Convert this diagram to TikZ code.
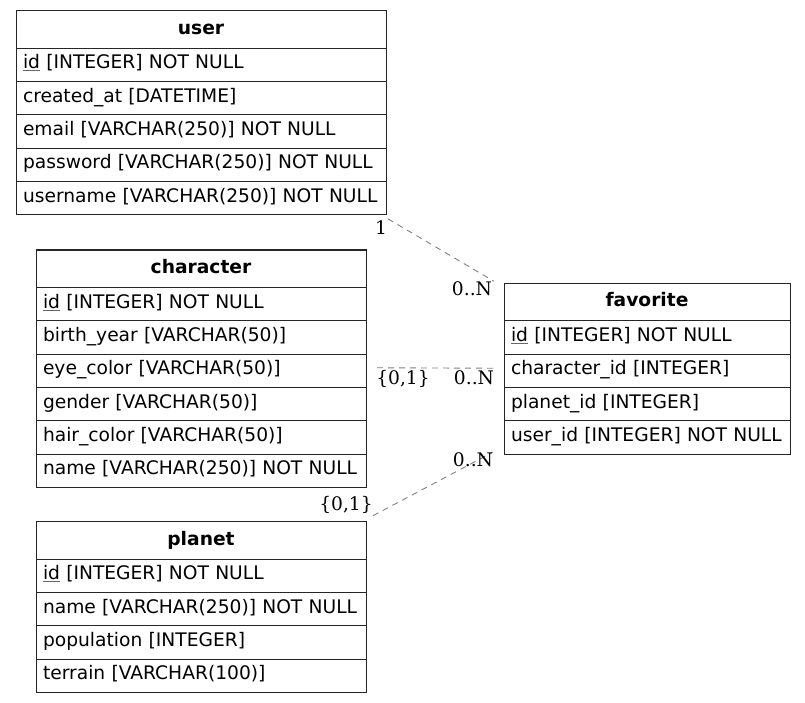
\documentclass[tikz,border=0pt]{standalone}
\usepackage{fontspec}
\usepackage{calc}
\setmainfont{DejaVu Sans}
\newfontfamily\lblfont{DejaVu Serif}
% primary key: thin grey underline just below the baseline
\newcommand\pkey[1]{\leavevmode\rlap{\textcolor{black!60}{\rule[-2.2pt]{\widthof{#1}}{0.8pt}}}#1}
\begin{document}
\begin{tikzpicture}[x=1pt,y=-1pt,
  every node/.style={font=\fontsize{18.67}{22}\selectfont},
  cellbase/.style={draw=black!85,line width=1pt,anchor=north west,inner ysep=0pt,inner xsep=7pt,outer sep=0pt},
  hdr/.style={cellbase,minimum height=37.4pt,text height=23.4pt,text depth=14pt,align=center,font=\fontsize{18.67}{22}\selectfont\bfseries},
  fld/.style={cellbase,minimum height=33.35pt,text height=20.7pt,text depth=12.65pt,align=left},
  rel/.style={draw=black!50,line width=0.9pt,dash pattern=on 6pt off 5pt},
  card/.style={anchor=base,inner sep=0pt,font=\fontsize{18.67}{22}\selectfont\lblfont}]
\useasboundingbox (0,0) rectangle (805,703);

% user
\node[hdr,text width=356pt] (u0) at (16,10.7) {user};
\node[fld,text width=356pt] (u1) at (u0.south west) {\mbox{\pkey{id} [INTEGER] NOT NULL}};
\node[fld,text width=356pt] (u2) at (u1.south west) {\mbox{created\_at [DATETIME]}};
\node[fld,text width=356pt] (u3) at (u2.south west) {\mbox{email [VARCHAR(250)] NOT NULL}};
\node[fld,text width=356pt] (u4) at (u3.south west) {\mbox{password [VARCHAR(250)] NOT NULL}};
\node[fld,text width=356pt] (u5) at (u4.south west) {\mbox{username [VARCHAR(250)] NOT NULL}};

% character
\node[hdr,text width=316pt] (c0) at (36,250) {character};
\node[fld,text width=316pt] (c1) at (c0.south west) {\mbox{\pkey{id} [INTEGER] NOT NULL}};
\node[fld,text width=316pt] (c2) at (c1.south west) {\mbox{birth\_year [VARCHAR(50)]}};
\node[fld,text width=316pt] (c3) at (c2.south west) {\mbox{eye\_color [VARCHAR(50)]}};
\node[fld,text width=316pt] (c4) at (c3.south west) {\mbox{gender [VARCHAR(50)]}};
\node[fld,text width=316pt] (c5) at (c4.south west) {\mbox{hair\_color [VARCHAR(50)]}};
\node[fld,text width=316pt] (c6) at (c5.south west) {\mbox{name [VARCHAR(250)] NOT NULL}};

% planet
\node[hdr,text width=316pt] (p0) at (36,521.7) {planet};
\node[fld,text width=316pt] (p1) at (p0.south west) {\mbox{\pkey{id} [INTEGER] NOT NULL}};
\node[fld,text width=316pt] (p2) at (p1.south west) {\mbox{name [VARCHAR(250)] NOT NULL}};
\node[fld,text width=316pt] (p3) at (p2.south west) {\mbox{population [INTEGER]}};
\node[fld,text width=316pt] (p4) at (p3.south west) {\mbox{terrain [VARCHAR(100)]}};

% favorite
\node[hdr,text width=272pt] (f0) at (504,283.3) {favorite};
\node[fld,text width=272pt] (f1) at (f0.south west) {\mbox{\pkey{id} [INTEGER] NOT NULL}};
\node[fld,text width=272pt] (f2) at (f1.south west) {\mbox{character\_id [INTEGER]}};
\node[fld,text width=272pt] (f3) at (f2.south west) {\mbox{planet\_id [INTEGER]}};
\node[fld,text width=272pt] (f4) at (f3.south west) {\mbox{user\_id [INTEGER] NOT NULL}};

% relationships
\draw[rel] ([shift={(2,4)}]u5.south east) -- ([shift={(-10,-2)}]f0.north west);
\draw[rel] ([shift={(11,-3)}]c3.east) -- ([shift={(-11,-2.5)}]f2.west);
\draw[rel] ([shift={(7,-6)}]p0.north east) -- ([shift={(-11,-2)}]f4.south west);

% cardinalities
\node[card] (k1) at (381,235) {1};
\node[card] (k2) at (472,295) {0..N};
\node[card] (k3) at (403,384) {\{0,1\}};
\node[card] (k4) at (474,384) {0..N};
\node[card] (k5) at (473,466) {0..N};
\node[card] (k6) at (346,510) {\{0,1\}};
\end{tikzpicture}
\end{document}
